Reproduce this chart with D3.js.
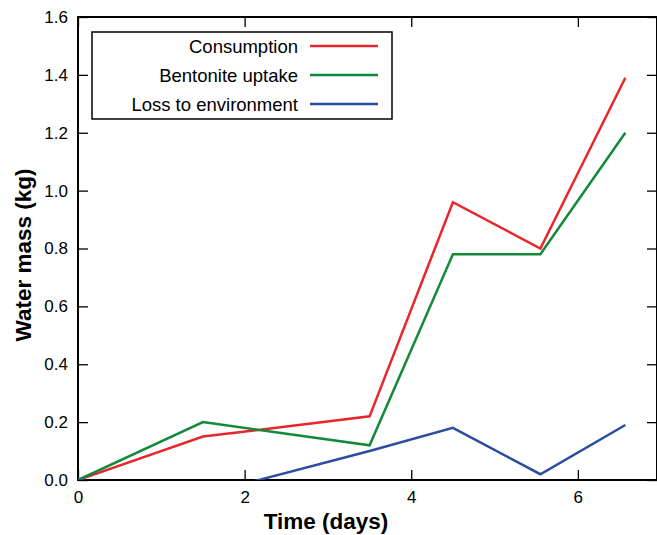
<!DOCTYPE html>
<html>
<head>
<meta charset="utf-8">
<script src="https://cdn.jsdelivr.net/npm/d3@7"></script>
<style>
  body { margin: 0; background: #fff; overflow: hidden; }
  text { font-family: "Liberation Sans", Arial, sans-serif; }
</style>
</head>
<body>
<div id="chart"></div>
<script>
// Data
const times = [0, 1.5, 3.5, 4.5, 5.55, 6.57];
const consumption = [0, 0.15, 0.22, 0.96, 0.80, 1.39];
const bentonite = [0, 0.20, 0.12, 0.78, 0.78, 1.20];
const loss = [0, -0.05, 0.10, 0.18, 0.02, 0.19];
const seriesNames = ["Consumption", "Bentonite uptake", "Loss to environment"];
const seriesColors = ["#e8262b", "#138a3b", "#2b4c9f"];
const xTicks = [0, 2, 4, 6];
const yTicks = [0, 0.2, 0.4, 0.6, 0.8, 1.0, 1.2, 1.4, 1.6];

const W = 657, H = 535;
const margin = { top: 17, right: 0, bottom: 55, left: 78 };

const svg = d3.select("#chart").append("svg")
  .attr("width", W).attr("height", H);

const x = d3.scaleLinear().domain([0, 6.95]).range([margin.left, W - margin.right]);
const y = d3.scaleLinear().domain([0, 1.6]).range([H - margin.bottom, margin.top]);

// clip to plot area
svg.append("clipPath").attr("id", "plotclip")
  .append("rect")
  .attr("x", margin.left).attr("y", margin.top)
  .attr("width", x.range()[1] - margin.left)
  .attr("height", y.range()[0] - margin.top);

// axes (ticks pointing inward)
const styleAxis = g => {
  g.select(".domain").remove();
  g.selectAll(".tick line").attr("stroke", "#000").attr("stroke-width", 1.3);
  g.selectAll(".tick text").attr("fill", "#000").style("font-size", "17px");
};

svg.append("g")
  .attr("transform", `translate(0,${y(0)})`)
  .call(d3.axisBottom(x).tickValues(xTicks).tickSizeInner(-10).tickPadding(11).tickFormat(d3.format("d")))
  .call(styleAxis);
svg.append("g")
  .attr("transform", `translate(0,${y(1.6)})`)
  .call(d3.axisTop(x).tickValues(xTicks).tickSizeInner(-10).tickFormat(""))
  .call(styleAxis);
svg.append("g")
  .attr("transform", `translate(${x(0)},0)`)
  .call(d3.axisLeft(y).tickValues(yTicks).tickSizeInner(-10).tickPadding(10).tickFormat(d3.format(".1f")))
  .call(styleAxis);
svg.append("g")
  .attr("transform", `translate(${x.range()[1]},0)`)
  .call(d3.axisRight(y).tickValues(yTicks).tickSizeInner(-10).tickFormat(""))
  .call(styleAxis);

// frame
svg.append("rect")
  .attr("x", x(0)).attr("y", y(1.6))
  .attr("width", x.range()[1] - x(0))
  .attr("height", y(0) - y(1.6))
  .attr("fill", "none").attr("stroke", "#000").attr("stroke-width", 2);

// lines
const series = [consumption, bentonite, loss];
const line = d3.line().x((d, i) => x(times[i])).y(d => y(d));
svg.append("g").attr("clip-path", "url(#plotclip)")
  .selectAll("path")
  .data(series)
  .join("path")
  .attr("fill", "none")
  .attr("stroke", (d, i) => seriesColors[i])
  .attr("stroke-width", 2.5)
  .attr("stroke-linejoin", "miter")
  .attr("d", line);

// legend
const legend = svg.append("g");
legend.append("rect")
  .attr("x", 92).attr("y", 32).attr("width", 300).attr("height", 87)
  .attr("fill", "#fff").attr("stroke", "#000").attr("stroke-width", 1.5);
const legendItem = legend.selectAll(".legendItem")
  .data(seriesNames)
  .join("g")
  .attr("transform", (d, i) => `translate(0,${46 + i * 29})`);
legendItem.append("text")
  .attr("x", 298).attr("y", 6.5)
  .attr("text-anchor", "end")
  .style("font-size", "18.5px")
  .text(d => d);
legendItem.append("line")
  .attr("x1", 310).attr("x2", 378)
  .attr("stroke", (d, i) => seriesColors[i])
  .attr("stroke-width", 2.5);

// axis titles
svg.append("text")
  .attr("x", 326).attr("y", 529)
  .attr("text-anchor", "middle")
  .style("font-size", "22.5px").style("font-weight", "bold")
  .text("Time (days)");
svg.append("text")
  .attr("transform", `translate(31,255) rotate(-90)`)
  .attr("text-anchor", "middle")
  .style("font-size", "22.5px").style("font-weight", "bold")
  .text("Water mass (kg)");
</script>
</body>
</html>
